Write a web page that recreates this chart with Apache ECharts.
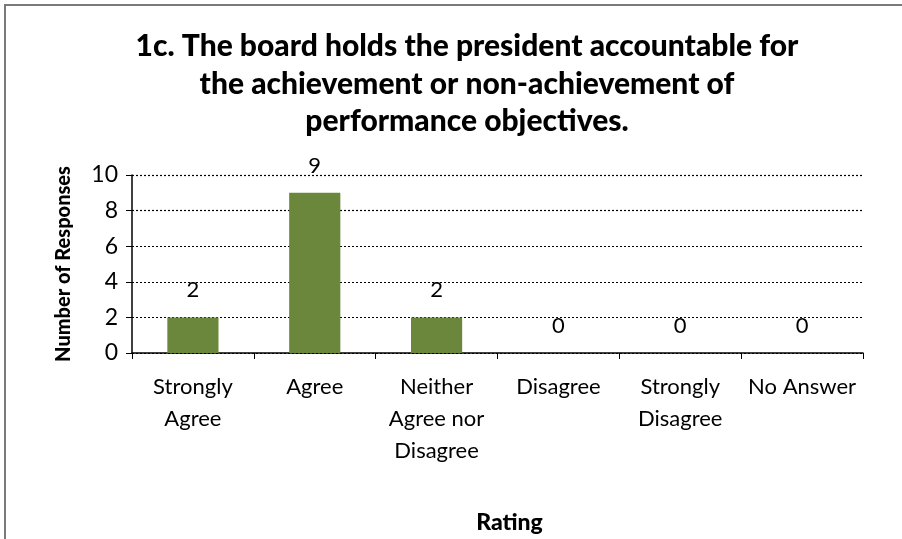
<!DOCTYPE html>
<html>
<head>
<meta charset="utf-8">
<script src="https://cdn.jsdelivr.net/npm/echarts@6/dist/echarts.min.js"></script>
<style>
  html, body { margin: 0; padding: 0; background: #fff; }
  #chart { width: 902px; height: 539px; }
</style>
</head>
<body>
<div id="chart"></div>
<script>
const categories = ["Strongly\nAgree", "Agree", "Neither\nAgree nor\nDisagree", "Disagree", "Strongly\nDisagree", "No Answer"];
const responses = [2, 9, 2, 0, 0, 0];
const titleText = "1c. The board holds the president accountable for\nthe achievement or non-achievement of\nperformance objectives.";

const chart = echarts.init(document.getElementById("chart"));
const font = "Lato, 'Open Sans', sans-serif";

const option = {
  backgroundColor: "#fff",
  textStyle: { fontFamily: font },
  title: {
    text: titleText,
    left: 462,
    textAlign: "center",
    top: 23,
    textStyle: {
      fontFamily: font,
      fontSize: 30,
      fontWeight: 900,
      color: "#000",
      lineHeight: 37.5
    }
  },
  graphic: [
    {
      type: "rect",
      shape: { x: 5, y: 5, width: 900, height: 540 },
      style: { fill: "none", stroke: "#7a7a7a", lineWidth: 2 }
    }
  ],
  grid: {
    left: 132,
    right: 39,
    top: 175,
    bottom: 186
  },
  xAxis: {
    type: "category",
    data: categories,
    name: "Rating",
    nameLocation: "middle",
    nameGap: 158,
    nameTextStyle: { fontFamily: font, fontSize: 23, fontWeight: 900, color: "#000", padding: [0, 0, 0, 24] },
    axisLine: { lineStyle: { color: "#000", width: 1.5 } },
    axisTick: { show: true, length: 6, lineStyle: { color: "#000" } },
    axisLabel: {
      fontFamily: font,
      fontSize: 22,
      color: "#000",
      margin: 18,
      lineHeight: 32,
      interval: 0
    }
  },
  yAxis: {
    type: "value",
    min: 0,
    max: 10,
    interval: 2,
    name: "Number of Responses",
    nameLocation: "middle",
    nameGap: 58,
    nameTextStyle: { fontFamily: font, fontSize: 20, fontWeight: 900, color: "#000" },
    axisLine: { show: true, lineStyle: { color: "#000", width: 1.5 } },
    axisTick: { show: true, length: 6, inside: false, lineStyle: { color: "#000" } },
    axisLabel: { fontFamily: font, fontSize: 23, color: "#000", margin: 14 },
    splitLine: { lineStyle: { color: "#000", type: [2, 2], width: 1.2 } }
  },
  series: [
    {
      type: "bar",
      data: responses,
      barWidth: "42%",
      itemStyle: { color: "#6b873b" },
      label: {
        show: true,
        position: "top",
        distance: 16,
        fontFamily: font,
        fontSize: 22,
        color: "#000"
      }
    }
  ]
};

chart.setOption(option);
</script>
</body>
</html>
